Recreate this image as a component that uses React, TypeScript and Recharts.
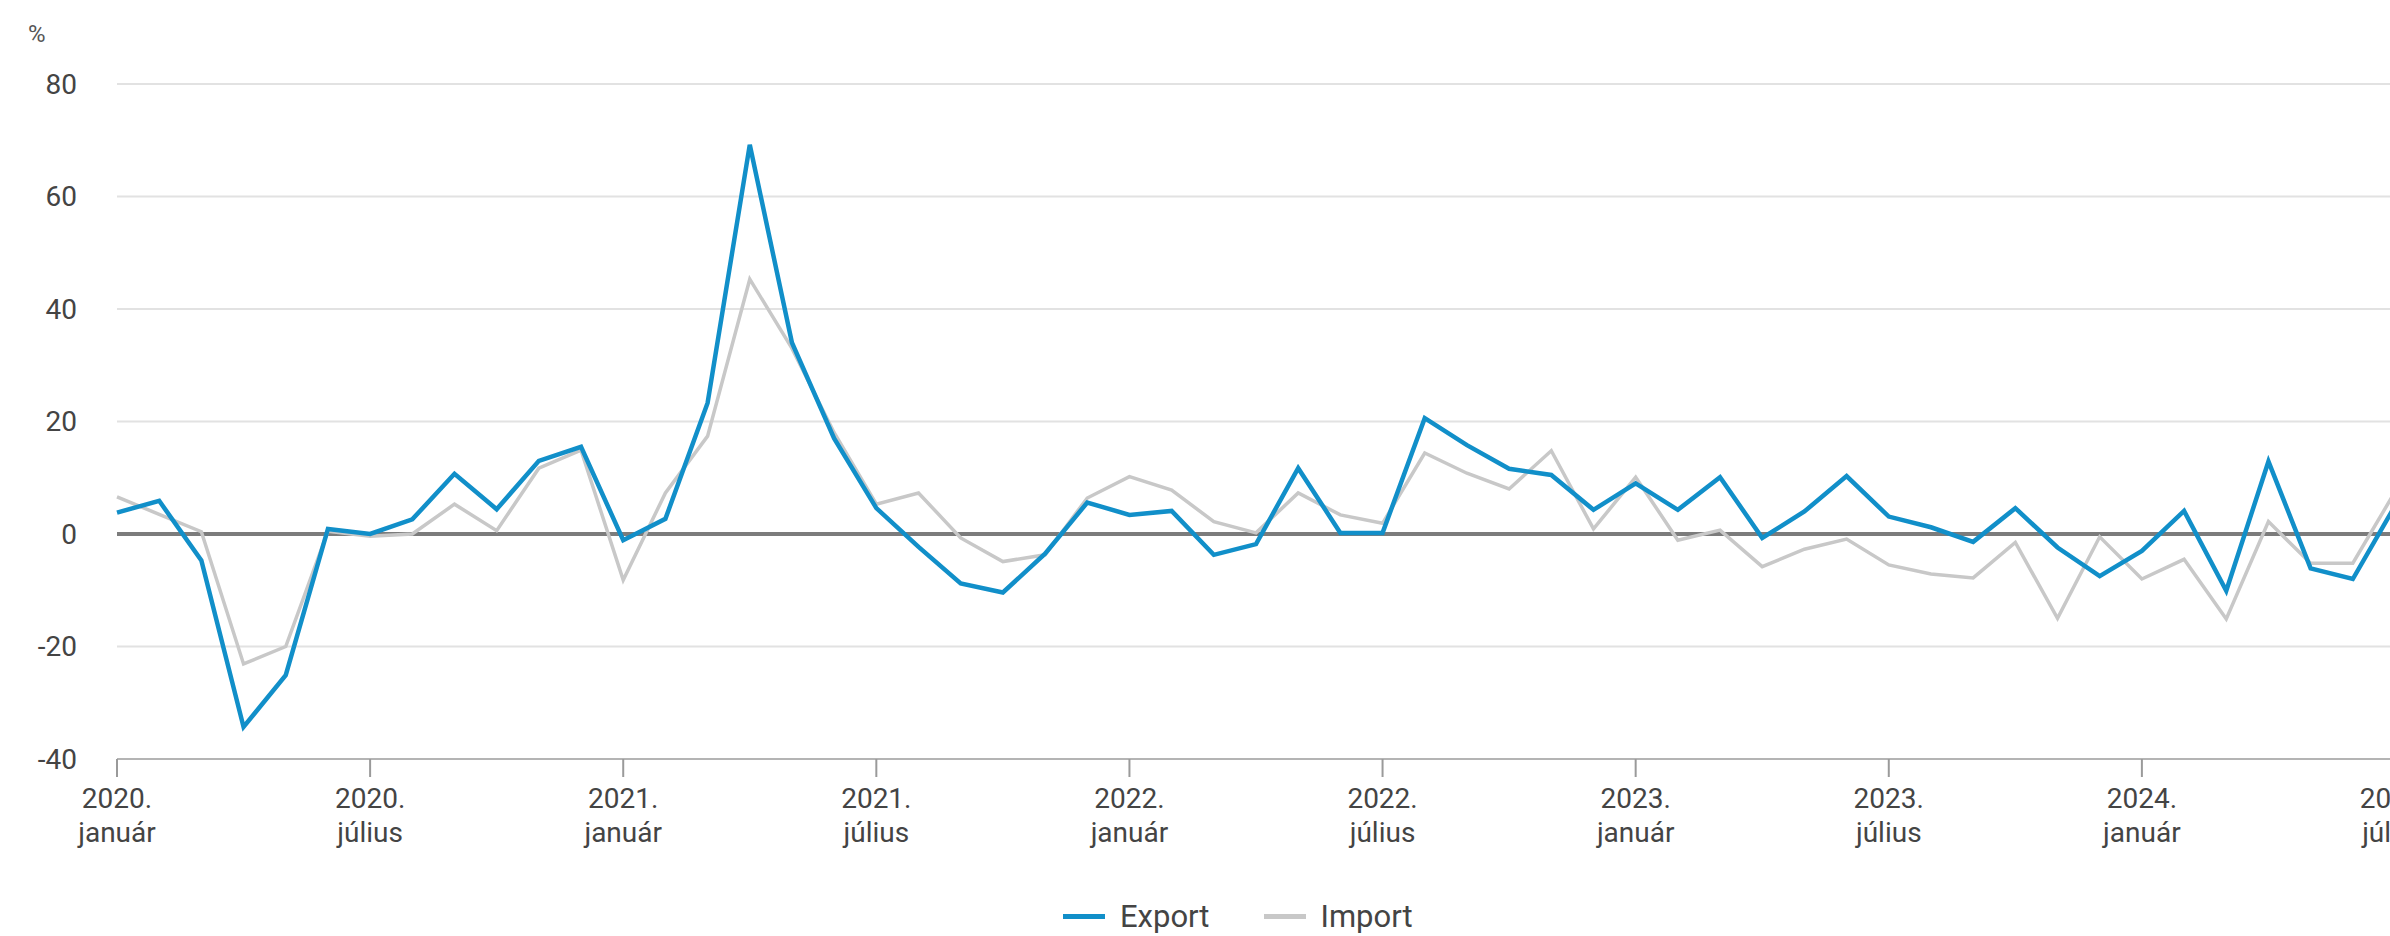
import React from "react";
import {
  LineChart,
  Line,
  XAxis,
  YAxis,
  CartesianGrid,
  ReferenceLine,
  Legend,
} from "recharts";

const years = [2020, 2021, 2022, 2023, 2024];
const monthNames = [
  "január",
  "február",
  "március",
  "április",
  "május",
  "június",
  "július",
  "augusztus",
  "szeptember",
  "október",
  "november",
  "december",
];

// 2020. január ... 2024. július
const periods = years
  .flatMap((y) => monthNames.map((m) => `${y}. ${m}`))
  .slice(0, 55);

const exportValues = [
  3.8, 5.9, -4.7, -34.3, -25.1, 0.9, 0, 2.6, 10.7, 4.4, 13.0, 15.5,
  -1.1, 2.7, 23.3, 69.2, 34, 17, 4.6, -2.3, -8.8, -10.4, -3.5, 5.6,
  3.4, 4.1, -3.7, -1.8, 11.7, 0.2, 0.2, 20.6, 15.8, 11.6, 10.5, 4.3,
  9.0, 4.3, 10.1, -0.7, 4.0, 10.3, 3.1, 1.2, -1.4, 4.6, -2.4, -7.5,
  -3.0, 4.1, -10.1, 12.9, -6.1, -8.0, 5,
];

const importValues = [
  6.6, 3.5, 0.4, -23.1, -20.0, 0.5, -0.4, 0, 5.3, 0.6, 11.7, 14.9,
  -8.2, 7.3, 17.4, 45.3, 33, 18, 5.3, 7.3, -0.7, -4.9, -3.7, 6.4,
  10.2, 7.8, 2.2, 0.2, 7.3, 3.4, 1.9, 14.4, 10.8, 8.0, 14.8, 0.9,
  10.1, -1.1, 0.7, -5.8, -2.7, -0.9, -5.5, -7.1, -7.8, -1.5, -15, -0.5,
  -8.0, -4.5, -15.1, 2.2, -5.2, -5.2, 7.5,
];

const yTicks = [-40, -20, 0, 20, 40, 60, 80];

const EXPORT_COLOR = "#118fc9";
const IMPORT_COLOR = "#c8c8c8";
const FONT = "Roboto, 'Liberation Sans', sans-serif";

const data = periods.map((period, i) => ({
  period,
  Export: exportValues[i],
  Import: importValues[i],
}));

function XTick({ x, y, payload }: any) {
  const [year, month] = String(payload.value).split(" ");
  return (
    <text x={x} y={y} textAnchor="middle" fill="#444" fontSize={28} fontFamily={FONT}>
      <tspan x={x} dy={31}>
        {year}
      </tspan>
      <tspan x={x} dy={34}>
        {month}
      </tspan>
    </text>
  );
}

function LegendContent() {
  const items = [
    { name: "Export", color: EXPORT_COLOR },
    { name: "Import", color: IMPORT_COLOR },
  ];
  return (
    <div style={{ display: "flex", alignItems: "center", height: 40, fontFamily: FONT }}>
      {items.map((it, i) => (
        <div
          key={it.name}
          style={{ display: "flex", alignItems: "center", marginRight: i === 0 ? 54 : 0 }}
        >
          <span
            style={{ display: "inline-block", width: 42, height: 5, background: it.color, marginRight: 15 }}
          />
          <span style={{ fontSize: 31, color: "#444" }}>{it.name}</span>
        </div>
      ))}
    </div>
  );
}

export default function App() {
  return (
    <div
      style={{
        position: "fixed",
        left: 0,
        top: 0,
        width: 2390,
        height: 936,
        overflow: "hidden",
        background: "#fff",
        fontFamily: FONT,
      }}
    >
      <div style={{ position: "absolute", left: 28, top: 20, fontSize: 24, color: "#555" }}>%</div>
      <LineChart
        width={2400}
        height={936}
        data={data}
        margin={{ top: 84, right: 5, left: 17, bottom: 0 }}
      >
        <CartesianGrid vertical={false} stroke="#e2e2e2" strokeWidth={2} />
        <XAxis
          dataKey="period"
          interval={5}
          height={137}
          tick={<XTick />}
          tickSize={18}
          tickMargin={0}
          axisLine={{ stroke: "#b4b4b4", strokeWidth: 2 }}
          tickLine={{ stroke: "#9a9a9a", strokeWidth: 2 }}
        />
        <YAxis
          domain={[-40, 80]}
          ticks={yTicks}
          width={100}
          axisLine={false}
          tickLine={false}
          tickSize={0}
          tickMargin={40}
          tick={{ fontSize: 28, fill: "#444", fontFamily: FONT }}
        />
        <ReferenceLine y={0} stroke="#7c7c7c" strokeWidth={4} />
        <Line
          type="linear"
          dataKey="Import"
          stroke={IMPORT_COLOR}
          strokeWidth={3.5}
          dot={false}
          isAnimationActive={false}
        />
        <Line
          type="linear"
          dataKey="Export"
          stroke={EXPORT_COLOR}
          strokeWidth={4.5}
          dot={false}
          isAnimationActive={false}
        />
        <Legend
          verticalAlign="bottom"
          align="left"
          wrapperStyle={{ left: 1063, bottom: 0, width: 420, height: 40 }}
          content={<LegendContent />}
        />
      </LineChart>
    </div>
  );
}
